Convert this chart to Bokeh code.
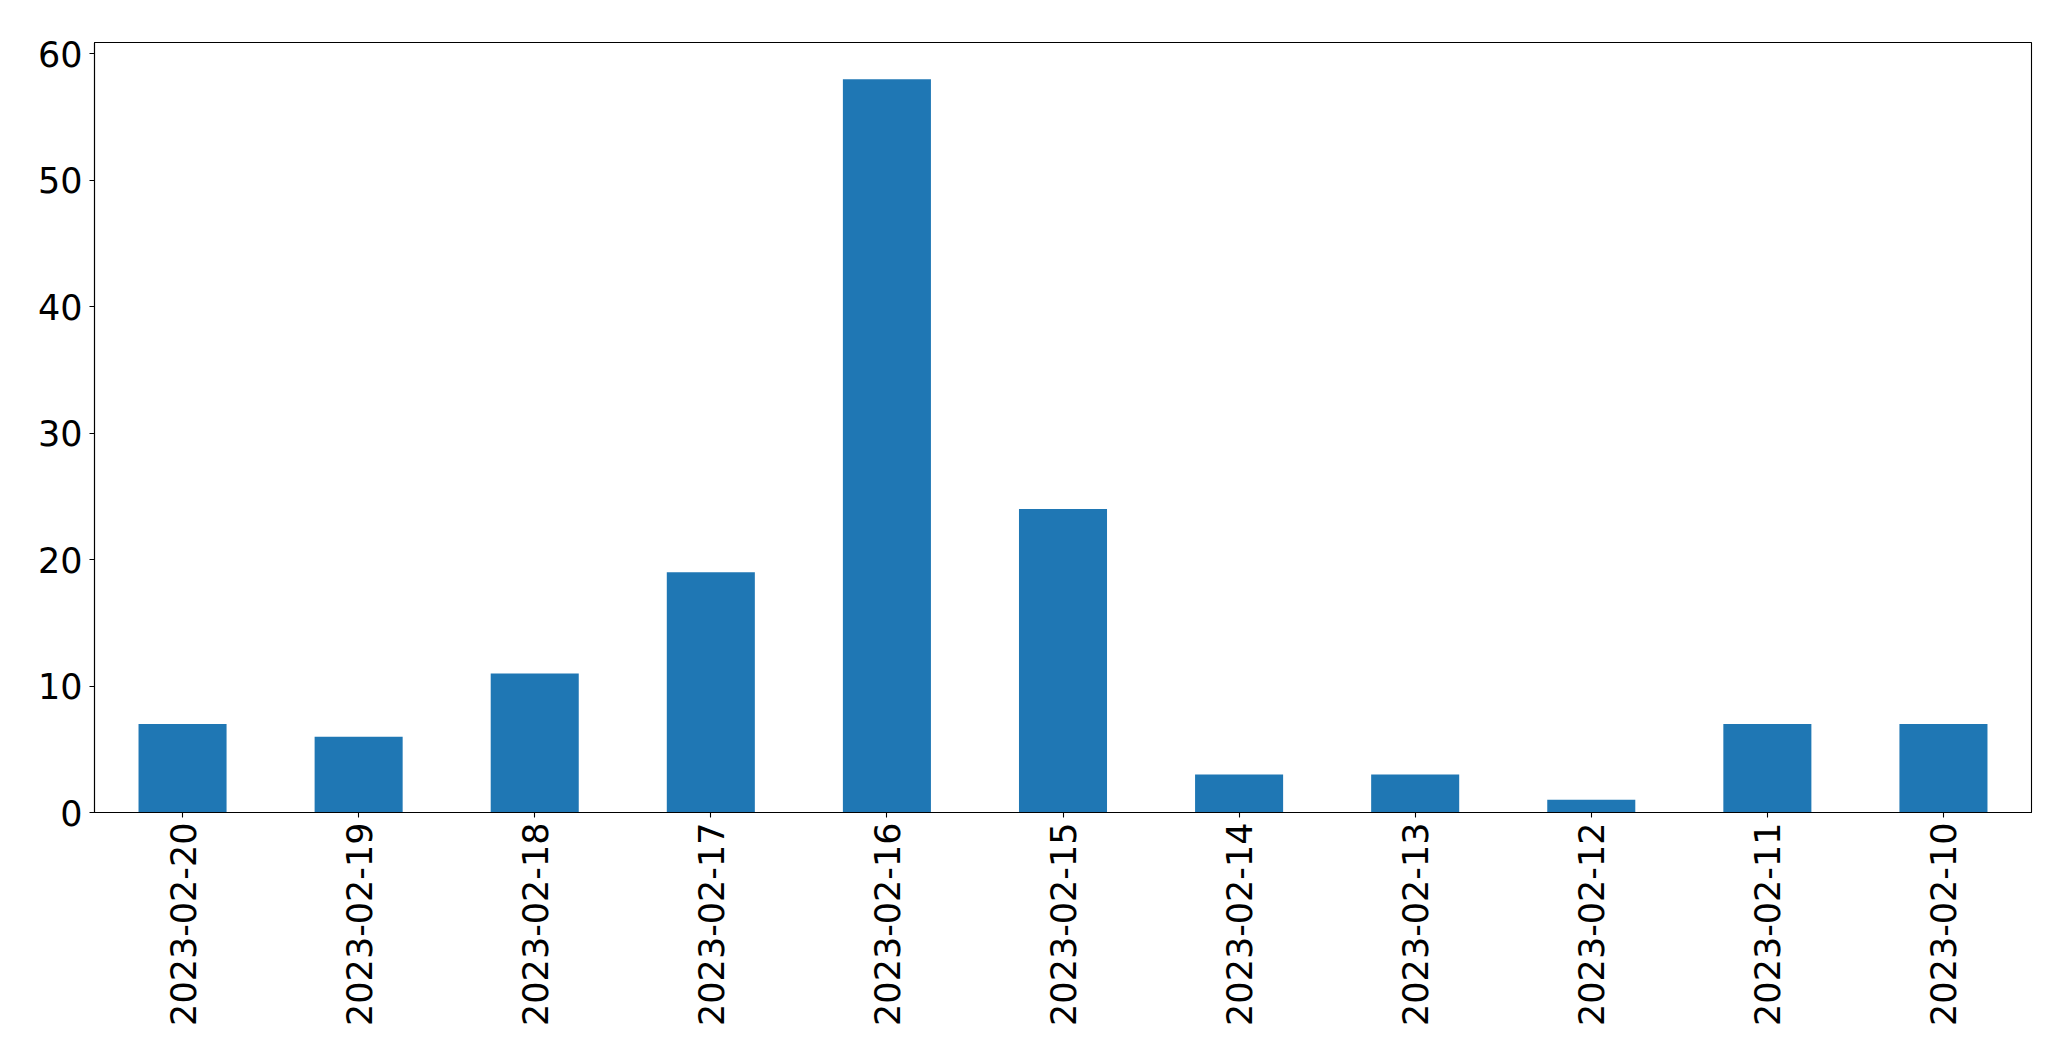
import math
from bokeh.plotting import figure
from bokeh.models import ColumnDataSource, Range1d, FixedTicker
from bokeh.embed import file_html
from bokeh.resources import INLINE

dates = ["2023-02-20", "2023-02-19", "2023-02-18", "2023-02-17", "2023-02-16",
         "2023-02-15", "2023-02-14", "2023-02-13", "2023-02-12", "2023-02-11",
         "2023-02-10"]
counts = [7, 6, 11, 19, 58, 24, 3, 3, 1, 7, 7]
y_ticks = [0, 10, 20, 30, 40, 50, 60]

src = ColumnDataSource(dict(date=dates, count=counts))

p = figure(x_range=dates, y_range=Range1d(0, max(counts) * 1.05),
           frame_width=1937, frame_height=770,
           min_border_left=94, min_border_top=42, min_border_right=32,
           min_border_bottom=236,
           output_backend="svg", toolbar_location=None,
           background_fill_color="white", border_fill_color="white")
p.x_range.range_padding = 0

p.vbar(x="date", top="count", width=0.5, source=src,
       fill_color="#1f77b4", line_color=None)

p.xgrid.visible = False
p.ygrid.visible = False
p.outline_line_color = "black"
p.outline_line_width = 1.1
p.outline_line_alpha = 1

for ax in (p.xaxis[0], p.yaxis[0]):
    ax.axis_line_color = "black"
    ax.axis_line_width = 1.1
    ax.major_tick_line_color = "black"
    ax.major_tick_line_width = 1.1
    ax.major_tick_out = 5
    ax.major_tick_in = 0
    ax.minor_tick_line_color = None
    ax.major_label_text_font = "DejaVu Sans"
    ax.major_label_text_font_size = "35px"
    ax.major_label_text_color = "black"

p.yaxis[0].ticker = FixedTicker(ticks=y_ticks)
p.yaxis[0].major_label_standoff = 7
p.xaxis[0].major_label_orientation = math.pi / 2
p.xaxis[0].major_label_standoff = 5

open("out.html", "w").write(file_html(p, INLINE))
